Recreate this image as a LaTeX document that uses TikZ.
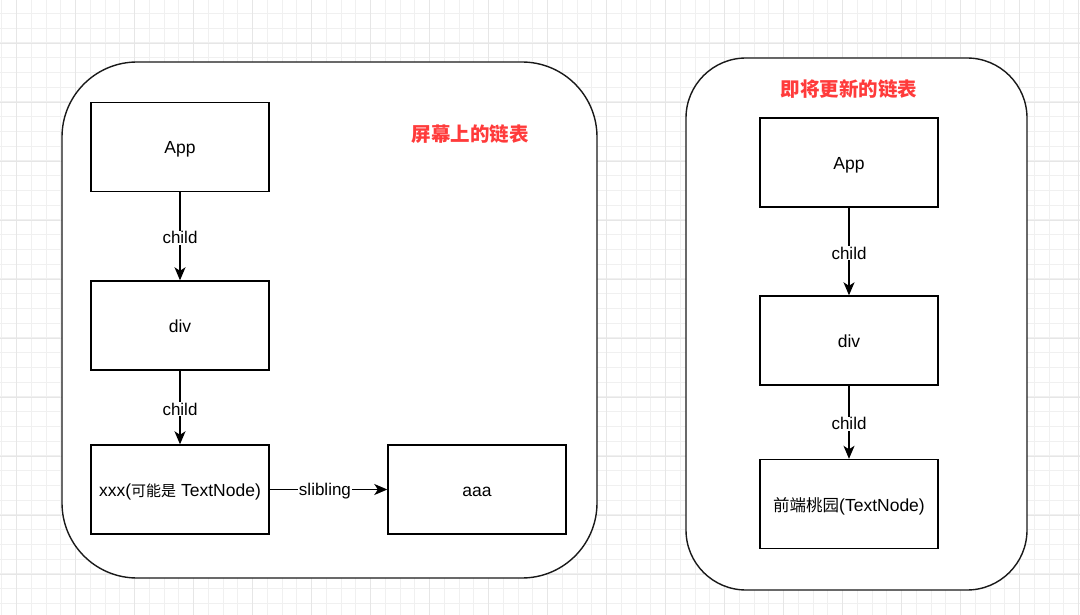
\documentclass[tikz,border=0pt]{standalone}
\usepackage{fontspec}
\setmainfont{Liberation Sans}
\newfontfamily\cjk{Noto Sans CJK SC}
\usetikzlibrary{arrows.meta}
\definecolor{gridc}{HTML}{F0F0F0}
\definecolor{gridm}{HTML}{E6E6E6}
\definecolor{titlered}{HTML}{FF3B3B}
\begin{document}
\begin{tikzpicture}[x=1pt,y=-1pt,
  box/.style={draw=black, line width=1.4pt, fill=white, minimum width=178pt, minimum height=89pt, inner sep=0pt, font=\fontsize{17.5}{19}\selectfont, text height=14pt, text depth=0pt},
  panel/.style={draw=black!90, line width=1.4pt, fill=white},
  conn/.style={line width=1.4pt, -{Stealth[length=13pt,width=11pt,inset=3.5pt]}},
  elabel/.style={fill=white, inner sep=1pt, font=\fontsize{17}{19}\selectfont, yshift=-1.5pt},
  ttl/.style={text=titlered, font=\fontsize{19.5}{21}\selectfont\cjk\bfseries}]
\useasboundingbox (0,0) rectangle (1080,615);
\fill[white] (0,0) rectangle (1080,615);
% grid
\foreach \i in {0,...,73} {
  \draw[gridc, line width=0.8pt] ({1.75+14.75*\i},0) -- ({1.75+14.75*\i},615);
}
\foreach \j in {0,...,42} {
  \draw[gridc, line width=0.8pt] (0,{-1.5+14.75*\j}) -- (1080,{-1.5+14.75*\j});
}
\foreach \i in {0,...,18} {
  \draw[gridm, line width=0.9pt] ({16.5+59*\i},0) -- ({16.5+59*\i},615);
}
\foreach \j in {0,...,10} {
  \draw[gridm, line width=0.9pt] (0,{-15.75+59*\j}) -- (1080,{-15.75+59*\j});
}
% panels
\draw[panel, rounded corners=75pt] (62,62) rectangle (597,578);
\draw[panel, rounded corners=60pt] (686,58) rectangle (1027,590);
% titles
\node[ttl] (t1) at (470,134) {屏幕上的链表};
\node[ttl] (t2) at (849,89) {即将更新的链表};
% left boxes
\node[box] (app1) at (180,147) {App};
\node[box] (div1) at (180,325.5) {div};
\node[box] (xxx) at (180,489.5) {xxx({\cjk\fontsize{15}{17}\selectfont 可能是} TextNode)};
\node[box] (aaa) at (477,489.5) {aaa};
% right boxes
\node[box] (app2) at (849,162.5) {App};
\node[box] (div2) at (849,340.5) {div};
\node[box] (fe) at (849,504) {{\cjk\fontsize{16.5}{18}\selectfont 前端桃园}(TextNode)};
% connectors
\draw[conn] (app1) -- node[elabel] {child} (div1);
\draw[conn] (div1) -- node[elabel] {child} (xxx);
\draw[conn] (xxx) -- node[elabel, pos=0.47] {slibling} (aaa);
\draw[conn] (app2) -- node[elabel] {child} (div2);
\draw[conn] (div2) -- node[elabel] {child} (fe);
\end{tikzpicture}
\end{document}
